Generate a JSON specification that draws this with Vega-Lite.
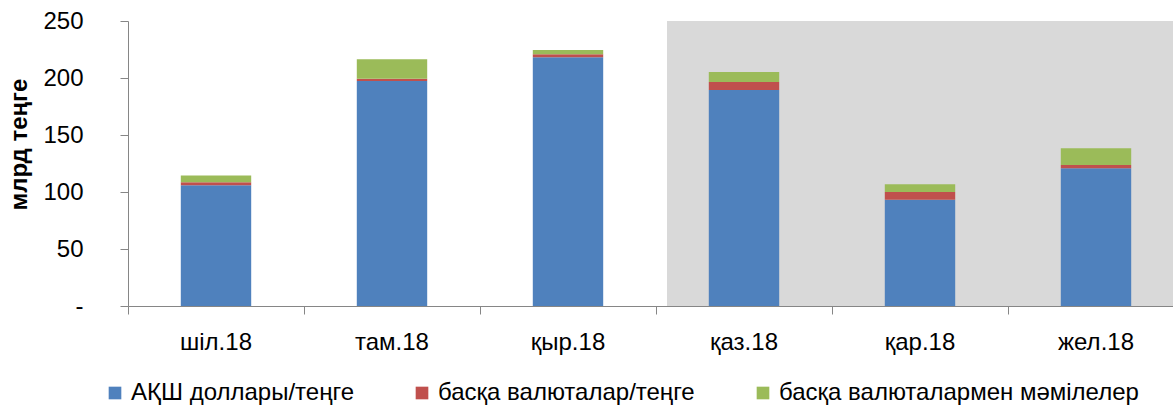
{
  "$schema": "https://vega.github.io/schema/vega-lite/v6.json",
  "width": 1045,
  "height": 285,
  "autosize": {"type": "none"},
  "padding": {"left": 128, "top": 21, "right": 0, "bottom": 101},
  "config": {
    "font": "Liberation Sans",
    "view": {"stroke": null},
    "axis": {"domainColor": "#868686", "tickColor": "#868686", "labelColor": "#000000", "grid": false}
  },
  "layer": [
    {
      "data": {"values": [{"start": "қаз.18", "end": "жел.18", "lo": 0, "hi": 250}]},
      "mark": {"type": "rect", "color": "#d9d9d9"},
      "encoding": {
        "x": {"field": "start", "type": "nominal", "bandPosition": 0.0625,
              "scale": {"domain": ["шіл.18", "там.18", "қыр.18", "қаз.18", "қар.18", "жел.18"], "range": [0, 1056], "paddingInner": 0, "paddingOuter": 0},
              "axis": {"title": null, "bandPosition": 0, "tickSize": 8, "labelAngle": 0, "labelPadding": 16, "labelFontSize": 24}},
        "x2": {"field": "end", "bandPosition": 1},
        "y": {"field": "lo", "type": "quantitative", "scale": {"domain": [0, 250], "nice": false},
              "axis": {"values": [0, 50, 100, 150, 200, 250], "labelExpr": "datum.value == 0 ? '-\u00a0\u00a0' : datum.label",
                       "tickSize": 8, "labelPadding": 37, "labelFontSize": 24, "title": "млрд теңге", "titleFontSize": 24, "titleFontWeight": "bold",
                       "titleColor": "#000000", "titleAngle": -90, "titleX": -109, "titleY": 123, "titleBaseline": "middle", "titleAlign": "center"}},
        "y2": {"field": "hi"}
      }
    },
    {
      "data": {"values": [
        {"month": "шіл.18", "series": "АҚШ доллары/теңге", "k": 1, "value": 106},
        {"month": "шіл.18", "series": "басқа валюталар/теңге", "k": 2, "value": 2.6},
        {"month": "шіл.18", "series": "басқа валюталармен мәмілелер", "k": 3, "value": 5.8},
        {"month": "там.18", "series": "АҚШ доллары/теңге", "k": 1, "value": 197.4},
        {"month": "там.18", "series": "басқа валюталар/теңге", "k": 2, "value": 2.0},
        {"month": "там.18", "series": "басқа валюталармен мәмілелер", "k": 3, "value": 17},
        {"month": "қыр.18", "series": "АҚШ доллары/теңге", "k": 1, "value": 218.2},
        {"month": "қыр.18", "series": "басқа валюталар/теңге", "k": 2, "value": 2.6},
        {"month": "қыр.18", "series": "басқа валюталармен мәмілелер", "k": 3, "value": 3.8},
        {"month": "қаз.18", "series": "АҚШ доллары/теңге", "k": 1, "value": 189.5},
        {"month": "қаз.18", "series": "басқа валюталар/теңге", "k": 2, "value": 7},
        {"month": "қаз.18", "series": "басқа валюталармен мәмілелер", "k": 3, "value": 8.8},
        {"month": "қар.18", "series": "АҚШ доллары/теңге", "k": 1, "value": 93.2},
        {"month": "қар.18", "series": "басқа валюталар/теңге", "k": 2, "value": 6.8},
        {"month": "қар.18", "series": "басқа валюталармен мәмілелер", "k": 3, "value": 6.7},
        {"month": "жел.18", "series": "АҚШ доллары/теңге", "k": 1, "value": 120.8},
        {"month": "жел.18", "series": "басқа валюталар/теңге", "k": 2, "value": 2.9},
        {"month": "жел.18", "series": "басқа валюталармен мәмілелер", "k": 3, "value": 14.6}
      ]},
      "mark": {"type": "bar", "width": {"band": 0.4}},
      "encoding": {
        "x": {"field": "month", "type": "nominal",
              "scale": {"domain": ["шіл.18", "там.18", "қыр.18", "қаз.18", "қар.18", "жел.18"], "range": [0, 1056], "paddingInner": 0, "paddingOuter": 0},
              "axis": {"title": null, "bandPosition": 0, "tickSize": 8, "labelAngle": 0, "labelPadding": 16, "labelFontSize": 24}},
        "y": {"field": "value", "type": "quantitative", "stack": "zero",
              "scale": {"domain": [0, 250], "nice": false},
              "axis": {"values": [0, 50, 100, 150, 200, 250], "labelExpr": "datum.value == 0 ? '-\u00a0\u00a0' : datum.label",
                       "tickSize": 8, "labelPadding": 37, "labelFontSize": 24, "title": "млрд теңге", "titleFontSize": 24, "titleFontWeight": "bold",
                       "titleColor": "#000000", "titleAngle": -90, "titleX": -109, "titleY": 123, "titleBaseline": "middle", "titleAlign": "center"}},
        "color": {"field": "series", "type": "nominal",
                  "scale": {"domain": ["АҚШ доллары/теңге", "басқа валюталар/теңге", "басқа валюталармен мәмілелер"], "range": ["#4f81bd", "#c0504d", "#9bbb59"]},
                  "legend": {"title": null, "orient": "none", "legendX": -25, "legendY": 360, "direction": "horizontal", "symbolType": "square", "symbolSize": 160,
                             "symbolStrokeWidth": 0, "labelFontSize": 24, "labelColor": "#000000", "labelLimit": 600, "columnPadding": 56}},
        "order": {"field": "k", "type": "quantitative"}
      }
    }
  ]
}
